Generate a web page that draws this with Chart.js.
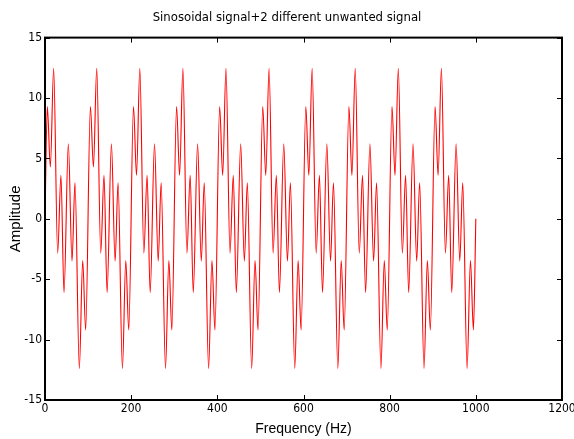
<!DOCTYPE html>
<html>
<head>
<meta charset="utf-8">
<script src="https://cdn.jsdelivr.net/npm/chart.js@4.4.0/dist/chart.umd.min.js"></script>
<style>
  html, body { margin: 0; padding: 0; background: #fff; }
  #wrap { width: 574px; height: 439px; }
</style>
</head>
<body>
<div id="wrap"><canvas id="chart" width="574" height="439"></canvas></div>
<script>
// x positions of the turning points (one row per 100 Hz)
const frequency = [
    0,
    5.4, 12.4, 20.1, 29.4, 37.0, 44.1, 54.2, 62.7, 69.6, 79.7, 87.5, 94.4,
    105.4, 112.4, 120.1, 129.4, 137.0, 144.1, 154.2, 162.7, 169.6, 179.7, 187.5, 194.4,
    205.4, 212.4, 220.1, 229.4, 237.0, 244.1, 254.2, 262.7, 269.6, 279.7, 287.5, 294.4,
    305.4, 312.4, 320.1, 329.4, 337.0, 344.1, 354.2, 362.7, 369.6, 379.7, 387.5, 394.4,
    405.4, 412.4, 420.1, 429.4, 437.0, 444.1, 454.2, 462.7, 469.6, 479.7, 487.5, 494.4,
    505.4, 512.4, 520.1, 529.4, 537.0, 544.1, 554.2, 562.7, 569.6, 579.7, 587.5, 594.4,
    605.4, 612.4, 620.1, 629.4, 637.0, 644.1, 654.2, 662.7, 669.6, 679.7, 687.5, 694.4,
    705.4, 712.4, 720.1, 729.4, 737.0, 744.1, 754.2, 762.7, 769.6, 779.7, 787.5, 794.4,
    805.4, 812.4, 820.1, 829.4, 837.0, 844.1, 854.2, 862.7, 869.6, 879.7, 887.5, 894.4,
    905.4, 912.4, 920.1, 929.4, 937.0, 944.1, 954.2, 962.7, 969.6, 979.7, 987.5, 994.4,
    1000
];

// amplitude at those points
const amplitude = [
    0,
    9.3, 4.3, 12.45, -2.85, 3.6, -6.1, 6.2, -3.5, 2.97, -12.4, -3.45, -9.2,
    9.3, 4.3, 12.45, -2.85, 3.6, -6.1, 6.2, -3.5, 2.97, -12.4, -3.45, -9.2,
    9.3, 3.6, 12.45, -2.85, 3.6, -6.1, 6.2, -3.5, 2.97, -12.4, -3.45, -9.2,
    9.3, 3.6, 12.45, -2.85, 3.6, -6.1, 6.2, -3.5, 2.97, -12.4, -3.45, -9.2,
    9.3, 3.6, 12.45, -2.85, 3.6, -6.1, 6.2, -3.5, 2.97, -12.4, -3.45, -9.2,
    9.3, 3.6, 12.45, -2.85, 3.6, -6.1, 6.2, -3.5, 2.97, -12.4, -3.45, -9.2,
    9.3, 3.6, 12.45, -2.85, 3.6, -6.1, 6.2, -3.5, 2.97, -12.4, -3.45, -9.2,
    9.3, 3.6, 12.45, -2.85, 3.6, -6.1, 6.2, -3.5, 2.97, -12.4, -3.45, -9.2,
    9.3, 3.6, 12.45, -2.85, 3.6, -6.1, 6.2, -3.5, 2.97, -12.4, -3.45, -9.2,
    9.3, 3.6, 12.45, -2.85, 3.6, -6.1, 6.2, -3.5, 2.97, -12.4, -3.45, -9.2,
    0
];

// axis ticks
const xTicks = [0, 200, 400, 600, 800, 1000, 1200];
const yTicks = [-15, -10, -5, 0, 5, 10, 15];

const narrow = "'Liberation Sans Narrow', 'DejaVu Sans Condensed', sans-serif";
const regular = "'Liberation Sans', Arial, sans-serif";

// Box around the plot with inward tick marks on all four sides
const matlabBox = {
    id: 'matlabBox',
    afterDraw(chart) {
        const ctx = chart.ctx;
        const a = chart.chartArea;
        const x = chart.scales.x;
        const y = chart.scales.y;
        ctx.save();
        ctx.strokeStyle = '#000';
        ctx.lineWidth = 1;
        xTicks.forEach(v => {
            const px = Math.round(x.getPixelForValue(v)) + 0.5;
            ctx.beginPath();
            ctx.moveTo(px, a.bottom); ctx.lineTo(px, a.bottom - 5);
            ctx.moveTo(px, a.top); ctx.lineTo(px, a.top + 5);
            ctx.stroke();
        });
        yTicks.forEach(v => {
            const py = Math.round(y.getPixelForValue(v)) + 0.5;
            ctx.beginPath();
            ctx.moveTo(a.left, py); ctx.lineTo(a.left + 5, py);
            ctx.moveTo(a.right, py); ctx.lineTo(a.right - 5, py);
            ctx.stroke();
        });
        ctx.lineWidth = 2;
        ctx.strokeRect(a.left, a.top, a.right - a.left, a.bottom - a.top);
        ctx.restore();
    }
};

const chart = new Chart(document.getElementById('chart'), {
    type: 'line',
    data: {
        datasets: [{
            data: frequency.map((f, i) => ({ x: f, y: amplitude[i] })),
            borderColor: '#ff0000',
            borderWidth: 1.1,
            pointRadius: 0,
            fill: false,
            cubicInterpolationMode: 'monotone'
        }]
    },
    options: {
        responsive: false,
        animation: false,
        events: [],
        layout: { padding: { left: 0, right: 0, top: 0, bottom: 0 } },
        plugins: {
            legend: { display: false },
            tooltip: { enabled: false },
            title: {
                display: true,
                text: 'Sinosoidal signal+2 different unwanted signal',
                color: '#000',
                font: { family: narrow, size: 13, weight: 'normal' },
                padding: { top: 10, bottom: 12 }
            }
        },
        scales: {
            x: {
                type: 'linear',
                min: 0,
                max: 1200,
                afterBuildTicks: s => { s.ticks = xTicks.map(v => ({ value: v })); },
                afterFit: s => { s.height = 39; s.paddingRight = 12; },
                grid: { display: false, drawTicks: false },
                border: { display: false },
                ticks: {
                    color: '#000',
                    padding: 2,
                    maxRotation: 0,
                    font: { family: narrow, size: 12 },
                    callback: v => String(v)
                },
                title: {
                    display: true,
                    text: 'Frequency (Hz)',
                    color: '#000',
                    padding: { top: 0, bottom: 1 },
                    font: { family: regular, size: 14 }
                }
            },
            y: {
                type: 'linear',
                min: -15,
                max: 15,
                afterBuildTicks: s => { s.ticks = yTicks.map(v => ({ value: v })); },
                afterFit: s => { s.width = 45; },
                grid: { display: false, drawTicks: false },
                border: { display: false },
                ticks: {
                    color: '#000',
                    padding: 3,
                    font: { family: narrow, size: 12 },
                    callback: v => String(v)
                },
                title: {
                    display: true,
                    text: 'Amplitude',
                    color: '#000',
                    padding: { top: 7, bottom: 0 },
                    font: { family: regular, size: 15 }
                }
            }
        }
    },
    plugins: [matlabBox]
});
</script>
</body>
</html>
